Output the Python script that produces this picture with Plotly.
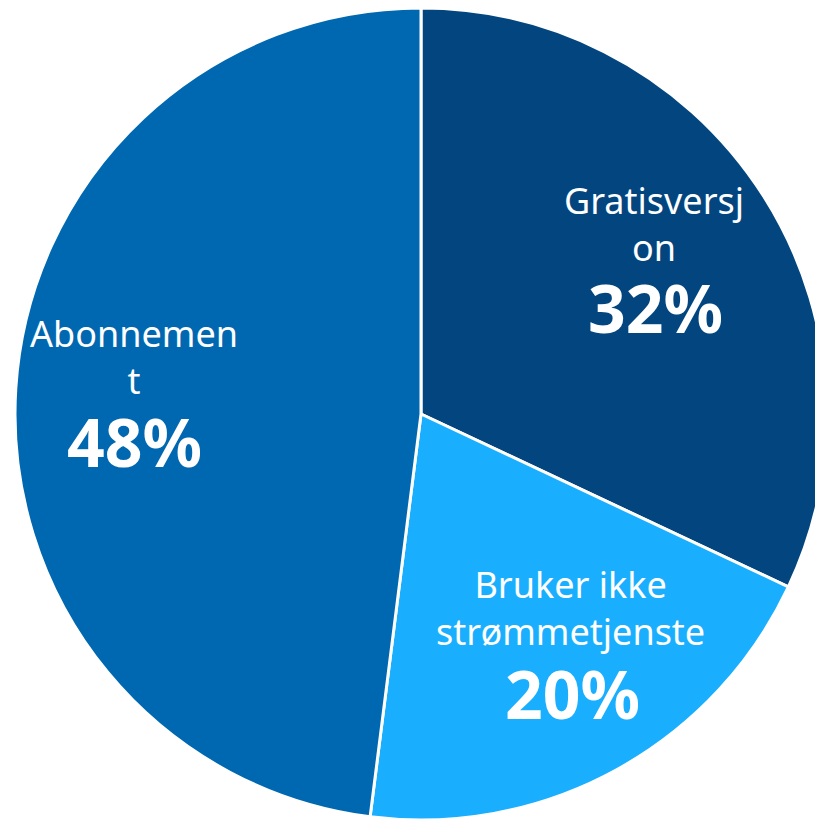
import plotly.graph_objects as go

# andel som bruker strømmetjenester
labels = ["Gratisversjon", "Bruker ikke strømmetjenste", "Abonnement"]
label_lines = ["Gratisversj<br>on", "Bruker ikke<br>strømmetjenste", "Abonnemen<br>t"]
values = [32, 20, 48]
colors = ["#03467f", "#1aaffe", "#0068b1"]

W, H = 823, 820

fig = go.Figure(
    go.Pie(
        labels=labels,
        values=values,
        sort=False,
        direction="clockwise",
        rotation=0,
        textinfo="none",
        hoverinfo="label+percent",
        marker=dict(colors=colors, line=dict(color="white", width=3)),
        domain=dict(x=[5 / W, 821 / W], y=[8 / H, 1]),
        showlegend=False,
    )
)

# tekstplassering (piksel fra øvre venstre hjørne)
label_pos = [(646, 216), (562, 600), (126, 349)]
pct_pos = [(647, 299), (564, 685), (126, 433)]

annotations = []
for txt, v, (lx, ly), (px, py) in zip(label_lines, values, label_pos, pct_pos):
    annotations.append(dict(
        x=lx / W, y=1 - ly / H, xref="paper", yref="paper",
        text=txt, showarrow=False, xanchor="center", yanchor="middle",
        font=dict(family="Noto Sans", size=36, color="white"),
    ))
    annotations.append(dict(
        x=px / W, y=1 - py / H, xref="paper", yref="paper",
        text=f"<b>{v}%</b>", showarrow=False, xanchor="center", yanchor="middle",
        font=dict(family="Noto Sans", size=66, color="white"),
    ))

fig.update_layout(
    width=W,
    height=H,
    margin=dict(l=0, r=0, t=0, b=0),
    paper_bgcolor="white",
    plot_bgcolor="white",
    annotations=annotations,
)

fig.write_html("out.html")
